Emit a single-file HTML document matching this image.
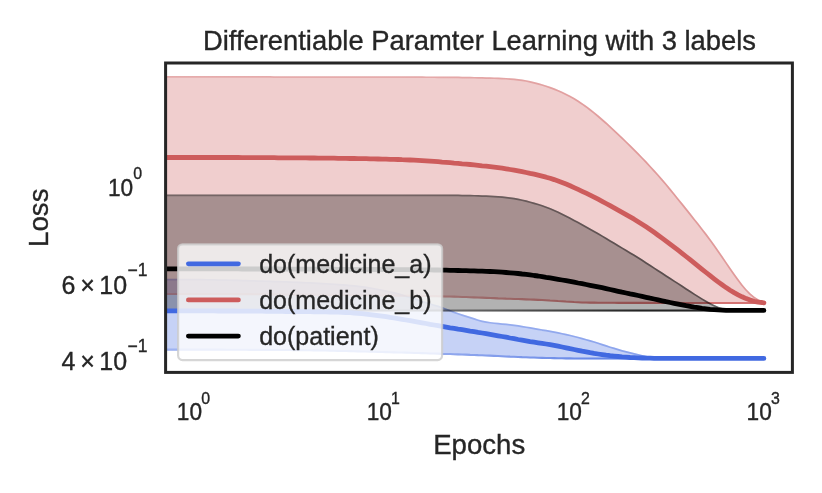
<!DOCTYPE html>
<html><head><meta charset="utf-8"><title>Differentiable Paramter Learning with 3 labels</title>
<style>
html,body{margin:0;padding:0;background:#fff;}
svg{display:block;}
text{font-family:"Liberation Sans",Arial,Helvetica,sans-serif;fill:#262626;stroke:#262626;stroke-width:0.35px;}
</style></head><body>
<svg width="822" height="493" viewBox="0 0 822 493">
<rect width="822" height="493" fill="#ffffff"/>
<defs><clipPath id="ax"><rect x="165.6" y="63.0" width="626.8" height="309.4"/></clipPath></defs>
<g clip-path="url(#ax)">
<clipPath id="b1"><path d="M150.0 278.7L194.1 278.7L198.1 278.8L202.1 278.8L206.1 278.9L210.1 279.0L214.1 279.1L218.1 279.2L222.1 279.3L226.1 279.3L230.1 279.4L234.1 279.5L238.1 279.6L242.1 279.7L246.1 279.8L250.1 280.0L254.1 280.1L258.1 280.2L262.1 280.3L266.1 280.4L270.1 280.5L274.1 280.7L278.1 280.8L282.1 280.9L286.1 281.1L290.1 281.2L294.1 281.4L298.1 281.6L302.1 281.7L306.1 281.9L310.1 282.1L314.1 282.3L318.1 282.5L322.1 282.7L326.1 282.9L330.1 283.2L334.1 283.4L338.2 283.7L342.2 284.0L346.2 284.3L350.2 284.7L354.2 285.0L358.2 285.5L362.2 286.0L366.2 286.6L370.2 287.2L374.2 287.9L378.2 288.7L382.2 289.5L386.2 290.3L390.3 291.2L394.3 292.1L398.3 293.1L402.3 294.3L406.3 295.5L410.3 296.7L414.3 298.0L418.3 299.3L422.3 300.7L426.3 301.9L430.3 303.2L434.3 304.4L438.3 305.6L442.3 307.0L446.3 308.4L450.4 310.0L454.3 311.6L458.3 313.0L462.3 314.3L466.3 315.6L470.3 316.8L474.3 318.1L478.3 319.4L482.3 320.5L486.2 321.3L490.2 321.9L494.2 322.4L498.2 322.8L502.2 323.2L506.2 323.6L510.2 324.0L514.2 324.6L518.2 325.1L522.2 325.8L526.2 326.4L530.2 327.1L534.2 327.8L538.2 328.5L542.2 329.2L546.2 329.8L550.2 330.5L554.2 331.3L558.2 332.0L562.2 332.9L566.3 333.8L570.3 334.7L574.3 335.7L578.3 336.7L582.3 337.8L586.3 338.9L590.3 340.0L594.3 341.2L598.3 342.5L602.3 343.8L606.3 345.1L610.3 346.4L614.3 347.6L618.3 348.8L622.3 350.0L626.3 351.0L630.3 352.0L634.3 353.0L638.3 353.9L642.3 354.9L646.2 355.8L650.2 356.4L654.2 357.0L658.1 357.4L662.1 357.5L666.1 357.5L670.1 357.5L674.1 357.5L678.1 357.5L682.1 357.5L686.1 357.6L690.1 357.6L694.1 357.6L698.1 357.6L702.1 357.6L706.1 357.6L710.1 357.6L714.1 357.6L718.1 357.6L722.1 357.6L726.1 357.6L730.1 357.6L734.1 357.6L738.1 357.6L742.1 357.6L746.1 357.6L750.1 357.6L754.1 357.6L758.1 357.6L762.1 357.6L763.9 357.6L763.9 359.7L762.1 359.7L758.1 359.7L754.1 359.7L750.1 359.7L746.1 359.7L742.1 359.7L738.1 359.7L734.1 359.7L730.1 359.7L726.1 359.7L722.1 359.7L718.1 359.7L714.1 359.7L710.1 359.7L706.1 359.7L702.1 359.7L698.1 359.7L694.1 359.7L690.1 359.7L686.1 359.7L682.1 359.7L678.1 359.7L674.1 359.7L670.1 359.7L666.1 359.7L662.1 359.7L658.1 359.7L654.1 359.7L650.1 359.7L646.1 359.7L642.1 359.6L638.1 359.6L634.1 359.6L630.1 359.6L626.1 359.6L622.1 359.6L618.1 359.6L614.1 359.6L610.1 359.6L606.1 359.6L602.1 359.6L598.1 359.6L594.1 359.6L590.1 359.6L586.1 359.5L582.1 359.5L578.1 359.5L574.1 359.5L570.1 359.4L566.1 359.4L562.1 359.3L558.1 359.3L554.1 359.2L550.1 359.1L546.1 359.0L542.1 358.9L538.1 358.8L534.1 358.6L530.1 358.5L526.1 358.3L522.1 358.2L518.0 358.0L514.0 357.8L510.0 357.7L506.0 357.5L502.0 357.3L498.0 357.1L494.0 356.9L490.0 356.7L486.0 356.5L482.0 356.3L478.1 356.2L474.1 356.0L470.1 355.9L466.1 355.7L462.1 355.6L458.1 355.4L454.1 355.3L450.1 355.1L446.1 355.0L442.1 354.9L438.1 354.7L434.1 354.6L430.1 354.5L426.1 354.3L422.1 354.2L418.1 354.1L414.1 354.0L410.1 353.8L406.1 353.7L402.1 353.6L398.1 353.5L394.1 353.4L390.1 353.3L386.1 353.2L382.1 353.1L378.1 353.0L374.1 352.8L370.1 352.7L366.1 352.6L362.1 352.5L358.1 352.4L354.1 352.3L350.1 352.2L346.1 352.1L342.1 352.0L338.1 351.9L334.1 351.8L330.1 351.7L326.1 351.6L322.1 351.5L318.1 351.4L314.1 351.4L310.1 351.3L306.1 351.3L302.1 351.2L298.1 351.2L294.1 351.2L290.1 351.1L286.1 351.1L282.1 351.1L278.1 351.0L274.1 351.0L270.1 351.0L266.1 351.0L262.1 350.9L258.1 350.9L254.1 350.9L250.1 350.9L246.1 350.8L242.1 350.8L238.1 350.8L234.1 350.8L230.1 350.8L226.1 350.8L222.1 350.7L218.1 350.7L214.1 350.7L210.1 350.7L206.1 350.7L202.1 350.7L198.1 350.7L194.1 350.7L150.0 350.7Z"/></clipPath><path d="M150.0 278.7L194.1 278.7L198.1 278.8L202.1 278.8L206.1 278.9L210.1 279.0L214.1 279.1L218.1 279.2L222.1 279.3L226.1 279.3L230.1 279.4L234.1 279.5L238.1 279.6L242.1 279.7L246.1 279.8L250.1 280.0L254.1 280.1L258.1 280.2L262.1 280.3L266.1 280.4L270.1 280.5L274.1 280.7L278.1 280.8L282.1 280.9L286.1 281.1L290.1 281.2L294.1 281.4L298.1 281.6L302.1 281.7L306.1 281.9L310.1 282.1L314.1 282.3L318.1 282.5L322.1 282.7L326.1 282.9L330.1 283.2L334.1 283.4L338.2 283.7L342.2 284.0L346.2 284.3L350.2 284.7L354.2 285.0L358.2 285.5L362.2 286.0L366.2 286.6L370.2 287.2L374.2 287.9L378.2 288.7L382.2 289.5L386.2 290.3L390.3 291.2L394.3 292.1L398.3 293.1L402.3 294.3L406.3 295.5L410.3 296.7L414.3 298.0L418.3 299.3L422.3 300.7L426.3 301.9L430.3 303.2L434.3 304.4L438.3 305.6L442.3 307.0L446.3 308.4L450.4 310.0L454.3 311.6L458.3 313.0L462.3 314.3L466.3 315.6L470.3 316.8L474.3 318.1L478.3 319.4L482.3 320.5L486.2 321.3L490.2 321.9L494.2 322.4L498.2 322.8L502.2 323.2L506.2 323.6L510.2 324.0L514.2 324.6L518.2 325.1L522.2 325.8L526.2 326.4L530.2 327.1L534.2 327.8L538.2 328.5L542.2 329.2L546.2 329.8L550.2 330.5L554.2 331.3L558.2 332.0L562.2 332.9L566.3 333.8L570.3 334.7L574.3 335.7L578.3 336.7L582.3 337.8L586.3 338.9L590.3 340.0L594.3 341.2L598.3 342.5L602.3 343.8L606.3 345.1L610.3 346.4L614.3 347.6L618.3 348.8L622.3 350.0L626.3 351.0L630.3 352.0L634.3 353.0L638.3 353.9L642.3 354.9L646.2 355.8L650.2 356.4L654.2 357.0L658.1 357.4L662.1 357.5L666.1 357.5L670.1 357.5L674.1 357.5L678.1 357.5L682.1 357.5L686.1 357.6L690.1 357.6L694.1 357.6L698.1 357.6L702.1 357.6L706.1 357.6L710.1 357.6L714.1 357.6L718.1 357.6L722.1 357.6L726.1 357.6L730.1 357.6L734.1 357.6L738.1 357.6L742.1 357.6L746.1 357.6L750.1 357.6L754.1 357.6L758.1 357.6L762.1 357.6L763.9 357.6L763.9 359.7L762.1 359.7L758.1 359.7L754.1 359.7L750.1 359.7L746.1 359.7L742.1 359.7L738.1 359.7L734.1 359.7L730.1 359.7L726.1 359.7L722.1 359.7L718.1 359.7L714.1 359.7L710.1 359.7L706.1 359.7L702.1 359.7L698.1 359.7L694.1 359.7L690.1 359.7L686.1 359.7L682.1 359.7L678.1 359.7L674.1 359.7L670.1 359.7L666.1 359.7L662.1 359.7L658.1 359.7L654.1 359.7L650.1 359.7L646.1 359.7L642.1 359.6L638.1 359.6L634.1 359.6L630.1 359.6L626.1 359.6L622.1 359.6L618.1 359.6L614.1 359.6L610.1 359.6L606.1 359.6L602.1 359.6L598.1 359.6L594.1 359.6L590.1 359.6L586.1 359.5L582.1 359.5L578.1 359.5L574.1 359.5L570.1 359.4L566.1 359.4L562.1 359.3L558.1 359.3L554.1 359.2L550.1 359.1L546.1 359.0L542.1 358.9L538.1 358.8L534.1 358.6L530.1 358.5L526.1 358.3L522.1 358.2L518.0 358.0L514.0 357.8L510.0 357.7L506.0 357.5L502.0 357.3L498.0 357.1L494.0 356.9L490.0 356.7L486.0 356.5L482.0 356.3L478.1 356.2L474.1 356.0L470.1 355.9L466.1 355.7L462.1 355.6L458.1 355.4L454.1 355.3L450.1 355.1L446.1 355.0L442.1 354.9L438.1 354.7L434.1 354.6L430.1 354.5L426.1 354.3L422.1 354.2L418.1 354.1L414.1 354.0L410.1 353.8L406.1 353.7L402.1 353.6L398.1 353.5L394.1 353.4L390.1 353.3L386.1 353.2L382.1 353.1L378.1 353.0L374.1 352.8L370.1 352.7L366.1 352.6L362.1 352.5L358.1 352.4L354.1 352.3L350.1 352.2L346.1 352.1L342.1 352.0L338.1 351.9L334.1 351.8L330.1 351.7L326.1 351.6L322.1 351.5L318.1 351.4L314.1 351.4L310.1 351.3L306.1 351.3L302.1 351.2L298.1 351.2L294.1 351.2L290.1 351.1L286.1 351.1L282.1 351.1L278.1 351.0L274.1 351.0L270.1 351.0L266.1 351.0L262.1 350.9L258.1 350.9L254.1 350.9L250.1 350.9L246.1 350.8L242.1 350.8L238.1 350.8L234.1 350.8L230.1 350.8L226.1 350.8L222.1 350.7L218.1 350.7L214.1 350.7L210.1 350.7L206.1 350.7L202.1 350.7L198.1 350.7L194.1 350.7L150.0 350.7Z" fill="#4169e1" fill-opacity="0.3"/><linearGradient id="gtb1" gradientUnits="userSpaceOnUse" x1="400" y1="0" x2="640" y2="0"><stop offset="0" stop-color="#4169e1" stop-opacity="0.3"/><stop offset="1" stop-color="#4169e1" stop-opacity="0.45"/></linearGradient><linearGradient id="gbb1" gradientUnits="userSpaceOnUse" x1="400" y1="0" x2="640" y2="0"><stop offset="0" stop-color="#4169e1" stop-opacity="0.3"/><stop offset="1" stop-color="#4169e1" stop-opacity="0.8"/></linearGradient><g clip-path="url(#b1)" fill="none" stroke-linejoin="round"><path d="M150.0 278.7L194.1 278.7L198.1 278.8L202.1 278.8L206.1 278.9L210.1 279.0L214.1 279.1L218.1 279.2L222.1 279.3L226.1 279.3L230.1 279.4L234.1 279.5L238.1 279.6L242.1 279.7L246.1 279.8L250.1 280.0L254.1 280.1L258.1 280.2L262.1 280.3L266.1 280.4L270.1 280.5L274.1 280.7L278.1 280.8L282.1 280.9L286.1 281.1L290.1 281.2L294.1 281.4L298.1 281.6L302.1 281.7L306.1 281.9L310.1 282.1L314.1 282.3L318.1 282.5L322.1 282.7L326.1 282.9L330.1 283.2L334.1 283.4L338.2 283.7L342.2 284.0L346.2 284.3L350.2 284.7L354.2 285.0L358.2 285.5L362.2 286.0L366.2 286.6L370.2 287.2L374.2 287.9L378.2 288.7L382.2 289.5L386.2 290.3L390.3 291.2L394.3 292.1L398.3 293.1L402.3 294.3L406.3 295.5L410.3 296.7L414.3 298.0L418.3 299.3L422.3 300.7L426.3 301.9L430.3 303.2L434.3 304.4L438.3 305.6L442.3 307.0L446.3 308.4L450.4 310.0L454.3 311.6L458.3 313.0L462.3 314.3L466.3 315.6L470.3 316.8L474.3 318.1L478.3 319.4L482.3 320.5L486.2 321.3L490.2 321.9L494.2 322.4L498.2 322.8L502.2 323.2L506.2 323.6L510.2 324.0L514.2 324.6L518.2 325.1L522.2 325.8L526.2 326.4L530.2 327.1L534.2 327.8L538.2 328.5L542.2 329.2L546.2 329.8L550.2 330.5L554.2 331.3L558.2 332.0L562.2 332.9L566.3 333.8L570.3 334.7L574.3 335.7L578.3 336.7L582.3 337.8L586.3 338.9L590.3 340.0L594.3 341.2L598.3 342.5L602.3 343.8L606.3 345.1L610.3 346.4L614.3 347.6L618.3 348.8L622.3 350.0L626.3 351.0L630.3 352.0L634.3 353.0L638.3 353.9L642.3 354.9L646.2 355.8L650.2 356.4L654.2 357.0L658.1 357.4L662.1 357.5L666.1 357.5L670.1 357.5L674.1 357.5L678.1 357.5L682.1 357.5L686.1 357.6L690.1 357.6L694.1 357.6L698.1 357.6L702.1 357.6L706.1 357.6L710.1 357.6L714.1 357.6L718.1 357.6L722.1 357.6L726.1 357.6L730.1 357.6L734.1 357.6L738.1 357.6L742.1 357.6L746.1 357.6L750.1 357.6L754.1 357.6L758.1 357.6L762.1 357.6L763.9 357.6" stroke="url(#gtb1)" stroke-width="3.4"/><path d="M150.0 350.7L194.1 350.7L198.1 350.7L202.1 350.7L206.1 350.7L210.1 350.7L214.1 350.7L218.1 350.7L222.1 350.7L226.1 350.8L230.1 350.8L234.1 350.8L238.1 350.8L242.1 350.8L246.1 350.8L250.1 350.9L254.1 350.9L258.1 350.9L262.1 350.9L266.1 351.0L270.1 351.0L274.1 351.0L278.1 351.0L282.1 351.1L286.1 351.1L290.1 351.1L294.1 351.2L298.1 351.2L302.1 351.2L306.1 351.3L310.1 351.3L314.1 351.4L318.1 351.4L322.1 351.5L326.1 351.6L330.1 351.7L334.1 351.8L338.1 351.9L342.1 352.0L346.1 352.1L350.1 352.2L354.1 352.3L358.1 352.4L362.1 352.5L366.1 352.6L370.1 352.7L374.1 352.8L378.1 353.0L382.1 353.1L386.1 353.2L390.1 353.3L394.1 353.4L398.1 353.5L402.1 353.6L406.1 353.7L410.1 353.8L414.1 354.0L418.1 354.1L422.1 354.2L426.1 354.3L430.1 354.5L434.1 354.6L438.1 354.7L442.1 354.9L446.1 355.0L450.1 355.1L454.1 355.3L458.1 355.4L462.1 355.6L466.1 355.7L470.1 355.9L474.1 356.0L478.1 356.2L482.0 356.3L486.0 356.5L490.0 356.7L494.0 356.9L498.0 357.1L502.0 357.3L506.0 357.5L510.0 357.7L514.0 357.8L518.0 358.0L522.1 358.2L526.1 358.3L530.1 358.5L534.1 358.6L538.1 358.8L542.1 358.9L546.1 359.0L550.1 359.1L554.1 359.2L558.1 359.3L562.1 359.3L566.1 359.4L570.1 359.4L574.1 359.5L578.1 359.5L582.1 359.5L586.1 359.5L590.1 359.6L594.1 359.6L598.1 359.6L602.1 359.6L606.1 359.6L610.1 359.6L614.1 359.6L618.1 359.6L622.1 359.6L626.1 359.6L630.1 359.6L634.1 359.6L638.1 359.6L642.1 359.6L646.1 359.7L650.1 359.7L654.1 359.7L658.1 359.7L662.1 359.7L666.1 359.7L670.1 359.7L674.1 359.7L678.1 359.7L682.1 359.7L686.1 359.7L690.1 359.7L694.1 359.7L698.1 359.7L702.1 359.7L706.1 359.7L710.1 359.7L714.1 359.7L718.1 359.7L722.1 359.7L726.1 359.7L730.1 359.7L734.1 359.7L738.1 359.7L742.1 359.7L746.1 359.7L750.1 359.7L754.1 359.7L758.1 359.7L762.1 359.7L763.9 359.7" stroke="url(#gbb1)" stroke-width="4.2"/></g>
<clipPath id="b2"><path d="M150.0 76.1L194.1 76.1L198.1 76.1L202.1 76.1L206.1 76.1L210.1 76.1L214.1 76.1L218.1 76.1L222.1 76.1L226.1 76.1L230.1 76.1L234.1 76.1L238.1 76.1L242.1 76.1L246.1 76.1L250.1 76.1L254.1 76.1L258.1 76.1L262.1 76.1L266.1 76.1L270.1 76.1L274.1 76.2L278.1 76.2L282.1 76.2L286.1 76.2L290.1 76.2L294.1 76.2L298.1 76.2L302.1 76.2L306.1 76.2L310.1 76.2L314.1 76.2L318.1 76.2L322.1 76.2L326.1 76.2L330.1 76.2L334.1 76.2L338.1 76.2L342.1 76.2L346.1 76.2L350.1 76.2L354.1 76.2L358.1 76.2L362.1 76.2L366.1 76.2L370.1 76.2L374.1 76.2L378.1 76.2L382.1 76.2L386.1 76.2L390.1 76.2L394.1 76.2L398.1 76.2L402.1 76.3L406.1 76.3L410.1 76.3L414.1 76.3L418.1 76.3L422.1 76.3L426.1 76.4L430.1 76.4L434.1 76.4L438.1 76.5L442.1 76.5L446.1 76.5L450.1 76.6L454.1 76.6L458.1 76.6L462.1 76.7L466.1 76.8L470.1 76.8L474.1 76.9L478.1 77.0L482.1 77.1L486.1 77.2L490.1 77.3L494.1 77.4L498.1 77.6L502.1 77.7L506.1 77.9L510.2 78.2L514.2 78.5L518.2 79.0L522.2 79.5L526.2 80.2L530.2 81.0L534.3 82.0L538.3 83.0L542.3 84.2L546.3 85.5L550.3 86.8L554.4 88.3L558.4 89.9L562.4 91.7L566.4 93.7L570.4 95.8L574.5 98.1L578.5 100.6L582.5 103.2L586.5 106.0L590.5 109.1L594.5 112.2L598.6 115.6L602.6 119.1L606.6 122.6L610.6 126.3L614.6 130.0L618.6 133.7L622.6 137.5L626.6 141.4L630.6 145.3L634.6 149.3L638.6 153.3L642.6 157.4L646.6 161.6L650.6 165.9L654.6 170.3L658.6 174.7L662.6 179.3L666.6 184.0L670.6 188.8L674.6 193.7L678.6 198.7L682.6 203.6L686.6 208.6L690.6 213.6L694.6 218.7L698.7 223.7L702.7 228.9L706.7 234.1L710.7 239.5L714.7 245.0L718.7 250.7L722.7 256.5L726.7 262.4L730.7 268.2L734.7 273.9L738.7 279.5L742.6 284.7L746.6 289.4L750.6 293.5L754.5 296.8L758.4 299.2L762.5 300.8L764.3 302.3L763.9 304.0L762.1 304.0L758.1 304.0L754.1 304.0L750.1 304.0L746.1 304.0L742.1 304.0L738.1 304.0L734.1 304.0L730.1 304.0L726.1 304.0L722.1 304.0L718.1 304.0L714.1 304.0L710.1 304.0L706.1 304.0L702.1 304.0L698.1 304.0L694.1 304.0L690.1 304.0L686.1 304.0L682.1 304.0L678.1 303.9L674.1 303.9L670.1 303.9L666.1 303.9L662.1 303.9L658.1 303.9L654.1 303.9L650.1 303.9L646.1 303.9L642.1 303.9L638.1 303.9L634.1 303.9L630.1 303.9L626.1 303.9L622.1 303.9L618.1 303.9L614.1 303.8L610.1 303.8L606.1 303.8L602.1 303.8L598.1 303.8L594.1 303.7L590.1 303.7L586.1 303.6L582.1 303.5L578.0 303.3L574.0 303.1L570.0 302.8L566.0 302.6L562.0 302.3L558.0 302.1L554.0 301.8L550.0 301.6L546.0 301.3L542.0 301.1L538.0 300.9L534.0 300.7L530.1 300.6L526.1 300.4L522.1 300.2L518.1 300.1L514.1 300.0L510.1 299.8L506.1 299.7L502.1 299.5L498.1 299.4L494.1 299.2L490.1 299.1L486.1 298.9L482.1 298.7L478.1 298.6L474.1 298.4L470.1 298.3L466.1 298.1L462.1 298.0L458.1 297.8L454.1 297.7L450.1 297.6L446.1 297.5L442.1 297.4L438.1 297.3L434.1 297.2L430.1 297.2L426.1 297.1L422.1 297.0L418.1 297.0L414.1 296.9L410.1 296.9L406.1 296.8L402.1 296.8L398.1 296.7L394.1 296.7L390.1 296.6L386.1 296.6L382.1 296.5L378.1 296.5L374.1 296.4L370.1 296.4L366.1 296.3L362.1 296.3L358.1 296.2L354.1 296.2L350.1 296.1L346.1 296.1L342.1 296.0L338.1 296.0L334.1 295.9L330.1 295.9L326.1 295.8L322.1 295.8L318.1 295.8L314.1 295.7L310.1 295.7L306.1 295.6L302.1 295.6L298.1 295.6L294.1 295.6L290.1 295.5L286.1 295.5L282.1 295.5L278.1 295.4L274.1 295.4L270.1 295.4L266.1 295.4L262.1 295.3L258.1 295.3L254.1 295.3L250.1 295.2L246.1 295.2L242.1 295.2L238.1 295.2L234.1 295.2L230.1 295.1L226.1 295.1L222.1 295.1L218.1 295.1L214.1 295.1L210.1 295.0L206.1 295.0L202.1 295.0L198.1 295.0L194.1 295.0L150.0 295.0Z"/></clipPath><path d="M150.0 76.1L194.1 76.1L198.1 76.1L202.1 76.1L206.1 76.1L210.1 76.1L214.1 76.1L218.1 76.1L222.1 76.1L226.1 76.1L230.1 76.1L234.1 76.1L238.1 76.1L242.1 76.1L246.1 76.1L250.1 76.1L254.1 76.1L258.1 76.1L262.1 76.1L266.1 76.1L270.1 76.1L274.1 76.2L278.1 76.2L282.1 76.2L286.1 76.2L290.1 76.2L294.1 76.2L298.1 76.2L302.1 76.2L306.1 76.2L310.1 76.2L314.1 76.2L318.1 76.2L322.1 76.2L326.1 76.2L330.1 76.2L334.1 76.2L338.1 76.2L342.1 76.2L346.1 76.2L350.1 76.2L354.1 76.2L358.1 76.2L362.1 76.2L366.1 76.2L370.1 76.2L374.1 76.2L378.1 76.2L382.1 76.2L386.1 76.2L390.1 76.2L394.1 76.2L398.1 76.2L402.1 76.3L406.1 76.3L410.1 76.3L414.1 76.3L418.1 76.3L422.1 76.3L426.1 76.4L430.1 76.4L434.1 76.4L438.1 76.5L442.1 76.5L446.1 76.5L450.1 76.6L454.1 76.6L458.1 76.6L462.1 76.7L466.1 76.8L470.1 76.8L474.1 76.9L478.1 77.0L482.1 77.1L486.1 77.2L490.1 77.3L494.1 77.4L498.1 77.6L502.1 77.7L506.1 77.9L510.2 78.2L514.2 78.5L518.2 79.0L522.2 79.5L526.2 80.2L530.2 81.0L534.3 82.0L538.3 83.0L542.3 84.2L546.3 85.5L550.3 86.8L554.4 88.3L558.4 89.9L562.4 91.7L566.4 93.7L570.4 95.8L574.5 98.1L578.5 100.6L582.5 103.2L586.5 106.0L590.5 109.1L594.5 112.2L598.6 115.6L602.6 119.1L606.6 122.6L610.6 126.3L614.6 130.0L618.6 133.7L622.6 137.5L626.6 141.4L630.6 145.3L634.6 149.3L638.6 153.3L642.6 157.4L646.6 161.6L650.6 165.9L654.6 170.3L658.6 174.7L662.6 179.3L666.6 184.0L670.6 188.8L674.6 193.7L678.6 198.7L682.6 203.6L686.6 208.6L690.6 213.6L694.6 218.7L698.7 223.7L702.7 228.9L706.7 234.1L710.7 239.5L714.7 245.0L718.7 250.7L722.7 256.5L726.7 262.4L730.7 268.2L734.7 273.9L738.7 279.5L742.6 284.7L746.6 289.4L750.6 293.5L754.5 296.8L758.4 299.2L762.5 300.8L764.3 302.3L763.9 304.0L762.1 304.0L758.1 304.0L754.1 304.0L750.1 304.0L746.1 304.0L742.1 304.0L738.1 304.0L734.1 304.0L730.1 304.0L726.1 304.0L722.1 304.0L718.1 304.0L714.1 304.0L710.1 304.0L706.1 304.0L702.1 304.0L698.1 304.0L694.1 304.0L690.1 304.0L686.1 304.0L682.1 304.0L678.1 303.9L674.1 303.9L670.1 303.9L666.1 303.9L662.1 303.9L658.1 303.9L654.1 303.9L650.1 303.9L646.1 303.9L642.1 303.9L638.1 303.9L634.1 303.9L630.1 303.9L626.1 303.9L622.1 303.9L618.1 303.9L614.1 303.8L610.1 303.8L606.1 303.8L602.1 303.8L598.1 303.8L594.1 303.7L590.1 303.7L586.1 303.6L582.1 303.5L578.0 303.3L574.0 303.1L570.0 302.8L566.0 302.6L562.0 302.3L558.0 302.1L554.0 301.8L550.0 301.6L546.0 301.3L542.0 301.1L538.0 300.9L534.0 300.7L530.1 300.6L526.1 300.4L522.1 300.2L518.1 300.1L514.1 300.0L510.1 299.8L506.1 299.7L502.1 299.5L498.1 299.4L494.1 299.2L490.1 299.1L486.1 298.9L482.1 298.7L478.1 298.6L474.1 298.4L470.1 298.3L466.1 298.1L462.1 298.0L458.1 297.8L454.1 297.7L450.1 297.6L446.1 297.5L442.1 297.4L438.1 297.3L434.1 297.2L430.1 297.2L426.1 297.1L422.1 297.0L418.1 297.0L414.1 296.9L410.1 296.9L406.1 296.8L402.1 296.8L398.1 296.7L394.1 296.7L390.1 296.6L386.1 296.6L382.1 296.5L378.1 296.5L374.1 296.4L370.1 296.4L366.1 296.3L362.1 296.3L358.1 296.2L354.1 296.2L350.1 296.1L346.1 296.1L342.1 296.0L338.1 296.0L334.1 295.9L330.1 295.9L326.1 295.8L322.1 295.8L318.1 295.8L314.1 295.7L310.1 295.7L306.1 295.6L302.1 295.6L298.1 295.6L294.1 295.6L290.1 295.5L286.1 295.5L282.1 295.5L278.1 295.4L274.1 295.4L270.1 295.4L266.1 295.4L262.1 295.3L258.1 295.3L254.1 295.3L250.1 295.2L246.1 295.2L242.1 295.2L238.1 295.2L234.1 295.2L230.1 295.1L226.1 295.1L222.1 295.1L218.1 295.1L214.1 295.1L210.1 295.0L206.1 295.0L202.1 295.0L198.1 295.0L194.1 295.0L150.0 295.0Z" fill="#cd5c5c" fill-opacity="0.3"/><linearGradient id="gtb2" gradientUnits="userSpaceOnUse" x1="400" y1="0" x2="640" y2="0"><stop offset="0" stop-color="#cd5c5c" stop-opacity="0.3"/><stop offset="1" stop-color="#cd5c5c" stop-opacity="0.45"/></linearGradient><linearGradient id="gbb2" gradientUnits="userSpaceOnUse" x1="400" y1="0" x2="640" y2="0"><stop offset="0" stop-color="#cd5c5c" stop-opacity="0.3"/><stop offset="1" stop-color="#cd5c5c" stop-opacity="0.8"/></linearGradient><g clip-path="url(#b2)" fill="none" stroke-linejoin="round"><path d="M150.0 76.1L194.1 76.1L198.1 76.1L202.1 76.1L206.1 76.1L210.1 76.1L214.1 76.1L218.1 76.1L222.1 76.1L226.1 76.1L230.1 76.1L234.1 76.1L238.1 76.1L242.1 76.1L246.1 76.1L250.1 76.1L254.1 76.1L258.1 76.1L262.1 76.1L266.1 76.1L270.1 76.1L274.1 76.2L278.1 76.2L282.1 76.2L286.1 76.2L290.1 76.2L294.1 76.2L298.1 76.2L302.1 76.2L306.1 76.2L310.1 76.2L314.1 76.2L318.1 76.2L322.1 76.2L326.1 76.2L330.1 76.2L334.1 76.2L338.1 76.2L342.1 76.2L346.1 76.2L350.1 76.2L354.1 76.2L358.1 76.2L362.1 76.2L366.1 76.2L370.1 76.2L374.1 76.2L378.1 76.2L382.1 76.2L386.1 76.2L390.1 76.2L394.1 76.2L398.1 76.2L402.1 76.3L406.1 76.3L410.1 76.3L414.1 76.3L418.1 76.3L422.1 76.3L426.1 76.4L430.1 76.4L434.1 76.4L438.1 76.5L442.1 76.5L446.1 76.5L450.1 76.6L454.1 76.6L458.1 76.6L462.1 76.7L466.1 76.8L470.1 76.8L474.1 76.9L478.1 77.0L482.1 77.1L486.1 77.2L490.1 77.3L494.1 77.4L498.1 77.6L502.1 77.7L506.1 77.9L510.2 78.2L514.2 78.5L518.2 79.0L522.2 79.5L526.2 80.2L530.2 81.0L534.3 82.0L538.3 83.0L542.3 84.2L546.3 85.5L550.3 86.8L554.4 88.3L558.4 89.9L562.4 91.7L566.4 93.7L570.4 95.8L574.5 98.1L578.5 100.6L582.5 103.2L586.5 106.0L590.5 109.1L594.5 112.2L598.6 115.6L602.6 119.1L606.6 122.6L610.6 126.3L614.6 130.0L618.6 133.7L622.6 137.5L626.6 141.4L630.6 145.3L634.6 149.3L638.6 153.3L642.6 157.4L646.6 161.6L650.6 165.9L654.6 170.3L658.6 174.7L662.6 179.3L666.6 184.0L670.6 188.8L674.6 193.7L678.6 198.7L682.6 203.6L686.6 208.6L690.6 213.6L694.6 218.7L698.7 223.7L702.7 228.9L706.7 234.1L710.7 239.5L714.7 245.0L718.7 250.7L722.7 256.5L726.7 262.4L730.7 268.2L734.7 273.9L738.7 279.5L742.6 284.7L746.6 289.4L750.6 293.5L754.5 296.8L758.4 299.2L762.5 300.8L764.3 302.3" stroke="url(#gtb2)" stroke-width="3.4"/><path d="M150.0 295.0L194.1 295.0L198.1 295.0L202.1 295.0L206.1 295.0L210.1 295.0L214.1 295.1L218.1 295.1L222.1 295.1L226.1 295.1L230.1 295.1L234.1 295.2L238.1 295.2L242.1 295.2L246.1 295.2L250.1 295.2L254.1 295.3L258.1 295.3L262.1 295.3L266.1 295.4L270.1 295.4L274.1 295.4L278.1 295.4L282.1 295.5L286.1 295.5L290.1 295.5L294.1 295.6L298.1 295.6L302.1 295.6L306.1 295.6L310.1 295.7L314.1 295.7L318.1 295.8L322.1 295.8L326.1 295.8L330.1 295.9L334.1 295.9L338.1 296.0L342.1 296.0L346.1 296.1L350.1 296.1L354.1 296.2L358.1 296.2L362.1 296.3L366.1 296.3L370.1 296.4L374.1 296.4L378.1 296.5L382.1 296.5L386.1 296.6L390.1 296.6L394.1 296.7L398.1 296.7L402.1 296.8L406.1 296.8L410.1 296.9L414.1 296.9L418.1 297.0L422.1 297.0L426.1 297.1L430.1 297.2L434.1 297.2L438.1 297.3L442.1 297.4L446.1 297.5L450.1 297.6L454.1 297.7L458.1 297.8L462.1 298.0L466.1 298.1L470.1 298.3L474.1 298.4L478.1 298.6L482.1 298.7L486.1 298.9L490.1 299.1L494.1 299.2L498.1 299.4L502.1 299.5L506.1 299.7L510.1 299.8L514.1 300.0L518.1 300.1L522.1 300.2L526.1 300.4L530.1 300.6L534.0 300.7L538.0 300.9L542.0 301.1L546.0 301.3L550.0 301.6L554.0 301.8L558.0 302.1L562.0 302.3L566.0 302.6L570.0 302.8L574.0 303.1L578.0 303.3L582.1 303.5L586.1 303.6L590.1 303.7L594.1 303.7L598.1 303.8L602.1 303.8L606.1 303.8L610.1 303.8L614.1 303.8L618.1 303.9L622.1 303.9L626.1 303.9L630.1 303.9L634.1 303.9L638.1 303.9L642.1 303.9L646.1 303.9L650.1 303.9L654.1 303.9L658.1 303.9L662.1 303.9L666.1 303.9L670.1 303.9L674.1 303.9L678.1 303.9L682.1 304.0L686.1 304.0L690.1 304.0L694.1 304.0L698.1 304.0L702.1 304.0L706.1 304.0L710.1 304.0L714.1 304.0L718.1 304.0L722.1 304.0L726.1 304.0L730.1 304.0L734.1 304.0L738.1 304.0L742.1 304.0L746.1 304.0L750.1 304.0L754.1 304.0L758.1 304.0L762.1 304.0L763.9 304.0" stroke="url(#gbb2)" stroke-width="4.2"/></g>
<clipPath id="b3"><path d="M150.0 194.5L194.1 194.5L198.1 194.5L202.1 194.5L206.1 194.5L210.1 194.5L214.1 194.5L218.1 194.5L222.1 194.5L226.1 194.5L230.1 194.5L234.1 194.5L238.1 194.5L242.1 194.5L246.1 194.5L250.1 194.5L254.1 194.5L258.1 194.5L262.1 194.5L266.1 194.5L270.1 194.5L274.1 194.5L278.1 194.5L282.1 194.5L286.1 194.5L290.1 194.5L294.1 194.5L298.1 194.5L302.1 194.5L306.1 194.5L310.1 194.5L314.1 194.5L318.1 194.5L322.1 194.5L326.1 194.5L330.1 194.5L334.1 194.5L338.1 194.5L342.1 194.5L346.1 194.5L350.1 194.5L354.1 194.5L358.1 194.5L362.1 194.5L366.1 194.5L370.1 194.5L374.1 194.5L378.1 194.5L382.1 194.5L386.1 194.5L390.1 194.5L394.1 194.5L398.1 194.5L402.1 194.5L406.1 194.5L410.1 194.5L414.1 194.5L418.1 194.5L422.1 194.5L426.1 194.5L430.1 194.5L434.1 194.5L438.1 194.5L442.1 194.5L446.1 194.5L450.1 194.6L454.1 194.6L458.1 194.6L462.1 194.7L466.1 194.8L470.1 194.8L474.1 194.9L478.1 195.0L482.1 195.2L486.1 195.3L490.1 195.5L494.1 195.7L498.2 196.0L502.2 196.3L506.2 196.7L510.2 197.2L514.2 197.8L518.2 198.5L522.3 199.4L526.3 200.3L530.3 201.4L534.3 202.5L538.3 203.7L542.3 205.0L546.3 206.5L550.4 208.0L554.4 209.7L558.4 211.5L562.4 213.5L566.4 215.5L570.4 217.5L574.4 219.7L578.4 221.8L582.4 224.0L586.4 226.2L590.4 228.5L594.4 230.7L598.5 233.0L602.5 235.4L606.5 237.8L610.5 240.2L614.5 242.6L618.5 245.0L622.5 247.4L626.5 249.8L630.5 252.2L634.5 254.6L638.5 257.1L642.5 259.6L646.5 262.2L650.5 264.8L654.5 267.4L658.5 270.0L662.5 272.6L666.5 275.2L670.5 277.8L674.5 280.4L678.5 282.9L682.5 285.6L686.5 288.2L690.5 290.8L694.5 293.4L698.5 295.9L702.5 298.4L706.5 300.7L710.4 303.0L714.4 305.0L718.3 306.7L722.3 307.9L726.2 308.8L730.2 309.2L734.1 309.4L738.1 309.5L742.1 309.6L746.1 309.6L750.1 309.7L754.1 309.7L758.1 309.7L762.1 309.7L763.9 309.7L763.9 311.5L762.1 311.5L758.1 311.5L754.1 311.5L750.1 311.5L746.1 311.5L742.1 311.5L738.1 311.5L734.1 311.5L730.1 311.5L726.1 311.5L722.1 311.5L718.1 311.5L714.1 311.5L710.1 311.5L706.1 311.5L702.1 311.5L698.1 311.5L694.1 311.5L690.1 311.5L686.1 311.5L682.1 311.5L678.1 311.5L674.1 311.5L670.1 311.5L666.1 311.5L662.1 311.5L658.1 311.5L654.1 311.5L650.1 311.5L646.1 311.5L642.1 311.5L638.1 311.5L634.1 311.5L630.1 311.5L626.1 311.5L622.1 311.5L618.1 311.5L614.1 311.5L610.1 311.5L606.1 311.5L602.1 311.5L598.1 311.5L594.1 311.5L590.1 311.5L586.1 311.5L582.1 311.5L578.1 311.5L574.1 311.5L570.1 311.5L566.1 311.5L562.1 311.5L558.1 311.5L554.1 311.5L550.1 311.5L546.1 311.5L542.1 311.5L538.1 311.5L534.1 311.5L530.1 311.5L526.1 311.5L522.1 311.5L518.1 311.5L514.1 311.5L510.1 311.5L506.1 311.5L502.1 311.5L498.1 311.5L494.1 311.5L490.1 311.5L486.1 311.5L482.1 311.5L478.1 311.5L474.1 311.5L470.1 311.5L466.1 311.5L462.1 311.5L458.1 311.5L454.1 311.5L450.1 311.5L446.1 311.5L442.1 311.5L438.1 311.5L434.1 311.5L430.1 311.5L426.1 311.5L422.1 311.5L418.1 311.5L414.1 311.5L410.1 311.5L406.1 311.5L402.1 311.5L398.1 311.5L394.1 311.5L390.1 311.5L386.1 311.5L382.1 311.5L378.1 311.5L374.1 311.5L370.1 311.5L366.1 311.5L362.1 311.5L358.1 311.5L354.1 311.5L350.1 311.5L346.1 311.5L342.1 311.5L338.1 311.5L334.1 311.5L330.1 311.5L326.1 311.5L322.1 311.5L318.1 311.5L314.1 311.5L310.1 311.5L306.1 311.5L302.1 311.5L298.1 311.5L294.1 311.5L290.1 311.5L286.1 311.5L282.1 311.5L278.1 311.5L274.1 311.5L270.1 311.5L266.1 311.5L262.1 311.5L258.1 311.5L254.1 311.5L250.1 311.5L246.1 311.5L242.1 311.5L238.1 311.5L234.1 311.5L230.1 311.5L226.1 311.5L222.1 311.5L218.1 311.5L214.1 311.5L210.1 311.5L206.1 311.5L202.1 311.5L198.1 311.5L194.1 311.5L150.0 311.5Z"/></clipPath><path d="M150.0 194.5L194.1 194.5L198.1 194.5L202.1 194.5L206.1 194.5L210.1 194.5L214.1 194.5L218.1 194.5L222.1 194.5L226.1 194.5L230.1 194.5L234.1 194.5L238.1 194.5L242.1 194.5L246.1 194.5L250.1 194.5L254.1 194.5L258.1 194.5L262.1 194.5L266.1 194.5L270.1 194.5L274.1 194.5L278.1 194.5L282.1 194.5L286.1 194.5L290.1 194.5L294.1 194.5L298.1 194.5L302.1 194.5L306.1 194.5L310.1 194.5L314.1 194.5L318.1 194.5L322.1 194.5L326.1 194.5L330.1 194.5L334.1 194.5L338.1 194.5L342.1 194.5L346.1 194.5L350.1 194.5L354.1 194.5L358.1 194.5L362.1 194.5L366.1 194.5L370.1 194.5L374.1 194.5L378.1 194.5L382.1 194.5L386.1 194.5L390.1 194.5L394.1 194.5L398.1 194.5L402.1 194.5L406.1 194.5L410.1 194.5L414.1 194.5L418.1 194.5L422.1 194.5L426.1 194.5L430.1 194.5L434.1 194.5L438.1 194.5L442.1 194.5L446.1 194.5L450.1 194.6L454.1 194.6L458.1 194.6L462.1 194.7L466.1 194.8L470.1 194.8L474.1 194.9L478.1 195.0L482.1 195.2L486.1 195.3L490.1 195.5L494.1 195.7L498.2 196.0L502.2 196.3L506.2 196.7L510.2 197.2L514.2 197.8L518.2 198.5L522.3 199.4L526.3 200.3L530.3 201.4L534.3 202.5L538.3 203.7L542.3 205.0L546.3 206.5L550.4 208.0L554.4 209.7L558.4 211.5L562.4 213.5L566.4 215.5L570.4 217.5L574.4 219.7L578.4 221.8L582.4 224.0L586.4 226.2L590.4 228.5L594.4 230.7L598.5 233.0L602.5 235.4L606.5 237.8L610.5 240.2L614.5 242.6L618.5 245.0L622.5 247.4L626.5 249.8L630.5 252.2L634.5 254.6L638.5 257.1L642.5 259.6L646.5 262.2L650.5 264.8L654.5 267.4L658.5 270.0L662.5 272.6L666.5 275.2L670.5 277.8L674.5 280.4L678.5 282.9L682.5 285.6L686.5 288.2L690.5 290.8L694.5 293.4L698.5 295.9L702.5 298.4L706.5 300.7L710.4 303.0L714.4 305.0L718.3 306.7L722.3 307.9L726.2 308.8L730.2 309.2L734.1 309.4L738.1 309.5L742.1 309.6L746.1 309.6L750.1 309.7L754.1 309.7L758.1 309.7L762.1 309.7L763.9 309.7L763.9 311.5L762.1 311.5L758.1 311.5L754.1 311.5L750.1 311.5L746.1 311.5L742.1 311.5L738.1 311.5L734.1 311.5L730.1 311.5L726.1 311.5L722.1 311.5L718.1 311.5L714.1 311.5L710.1 311.5L706.1 311.5L702.1 311.5L698.1 311.5L694.1 311.5L690.1 311.5L686.1 311.5L682.1 311.5L678.1 311.5L674.1 311.5L670.1 311.5L666.1 311.5L662.1 311.5L658.1 311.5L654.1 311.5L650.1 311.5L646.1 311.5L642.1 311.5L638.1 311.5L634.1 311.5L630.1 311.5L626.1 311.5L622.1 311.5L618.1 311.5L614.1 311.5L610.1 311.5L606.1 311.5L602.1 311.5L598.1 311.5L594.1 311.5L590.1 311.5L586.1 311.5L582.1 311.5L578.1 311.5L574.1 311.5L570.1 311.5L566.1 311.5L562.1 311.5L558.1 311.5L554.1 311.5L550.1 311.5L546.1 311.5L542.1 311.5L538.1 311.5L534.1 311.5L530.1 311.5L526.1 311.5L522.1 311.5L518.1 311.5L514.1 311.5L510.1 311.5L506.1 311.5L502.1 311.5L498.1 311.5L494.1 311.5L490.1 311.5L486.1 311.5L482.1 311.5L478.1 311.5L474.1 311.5L470.1 311.5L466.1 311.5L462.1 311.5L458.1 311.5L454.1 311.5L450.1 311.5L446.1 311.5L442.1 311.5L438.1 311.5L434.1 311.5L430.1 311.5L426.1 311.5L422.1 311.5L418.1 311.5L414.1 311.5L410.1 311.5L406.1 311.5L402.1 311.5L398.1 311.5L394.1 311.5L390.1 311.5L386.1 311.5L382.1 311.5L378.1 311.5L374.1 311.5L370.1 311.5L366.1 311.5L362.1 311.5L358.1 311.5L354.1 311.5L350.1 311.5L346.1 311.5L342.1 311.5L338.1 311.5L334.1 311.5L330.1 311.5L326.1 311.5L322.1 311.5L318.1 311.5L314.1 311.5L310.1 311.5L306.1 311.5L302.1 311.5L298.1 311.5L294.1 311.5L290.1 311.5L286.1 311.5L282.1 311.5L278.1 311.5L274.1 311.5L270.1 311.5L266.1 311.5L262.1 311.5L258.1 311.5L254.1 311.5L250.1 311.5L246.1 311.5L242.1 311.5L238.1 311.5L234.1 311.5L230.1 311.5L226.1 311.5L222.1 311.5L218.1 311.5L214.1 311.5L210.1 311.5L206.1 311.5L202.1 311.5L198.1 311.5L194.1 311.5L150.0 311.5Z" fill="#000000" fill-opacity="0.3"/><linearGradient id="gtb3" gradientUnits="userSpaceOnUse" x1="400" y1="0" x2="640" y2="0"><stop offset="0" stop-color="#000000" stop-opacity="0.3"/><stop offset="1" stop-color="#000000" stop-opacity="0.45"/></linearGradient><linearGradient id="gbb3" gradientUnits="userSpaceOnUse" x1="400" y1="0" x2="640" y2="0"><stop offset="0" stop-color="#000000" stop-opacity="0.3"/><stop offset="1" stop-color="#000000" stop-opacity="0.8"/></linearGradient><g clip-path="url(#b3)" fill="none" stroke-linejoin="round"><path d="M150.0 194.5L194.1 194.5L198.1 194.5L202.1 194.5L206.1 194.5L210.1 194.5L214.1 194.5L218.1 194.5L222.1 194.5L226.1 194.5L230.1 194.5L234.1 194.5L238.1 194.5L242.1 194.5L246.1 194.5L250.1 194.5L254.1 194.5L258.1 194.5L262.1 194.5L266.1 194.5L270.1 194.5L274.1 194.5L278.1 194.5L282.1 194.5L286.1 194.5L290.1 194.5L294.1 194.5L298.1 194.5L302.1 194.5L306.1 194.5L310.1 194.5L314.1 194.5L318.1 194.5L322.1 194.5L326.1 194.5L330.1 194.5L334.1 194.5L338.1 194.5L342.1 194.5L346.1 194.5L350.1 194.5L354.1 194.5L358.1 194.5L362.1 194.5L366.1 194.5L370.1 194.5L374.1 194.5L378.1 194.5L382.1 194.5L386.1 194.5L390.1 194.5L394.1 194.5L398.1 194.5L402.1 194.5L406.1 194.5L410.1 194.5L414.1 194.5L418.1 194.5L422.1 194.5L426.1 194.5L430.1 194.5L434.1 194.5L438.1 194.5L442.1 194.5L446.1 194.5L450.1 194.6L454.1 194.6L458.1 194.6L462.1 194.7L466.1 194.8L470.1 194.8L474.1 194.9L478.1 195.0L482.1 195.2L486.1 195.3L490.1 195.5L494.1 195.7L498.2 196.0L502.2 196.3L506.2 196.7L510.2 197.2L514.2 197.8L518.2 198.5L522.3 199.4L526.3 200.3L530.3 201.4L534.3 202.5L538.3 203.7L542.3 205.0L546.3 206.5L550.4 208.0L554.4 209.7L558.4 211.5L562.4 213.5L566.4 215.5L570.4 217.5L574.4 219.7L578.4 221.8L582.4 224.0L586.4 226.2L590.4 228.5L594.4 230.7L598.5 233.0L602.5 235.4L606.5 237.8L610.5 240.2L614.5 242.6L618.5 245.0L622.5 247.4L626.5 249.8L630.5 252.2L634.5 254.6L638.5 257.1L642.5 259.6L646.5 262.2L650.5 264.8L654.5 267.4L658.5 270.0L662.5 272.6L666.5 275.2L670.5 277.8L674.5 280.4L678.5 282.9L682.5 285.6L686.5 288.2L690.5 290.8L694.5 293.4L698.5 295.9L702.5 298.4L706.5 300.7L710.4 303.0L714.4 305.0L718.3 306.7L722.3 307.9L726.2 308.8L730.2 309.2L734.1 309.4L738.1 309.5L742.1 309.6L746.1 309.6L750.1 309.7L754.1 309.7L758.1 309.7L762.1 309.7L763.9 309.7" stroke="url(#gtb3)" stroke-width="3.4"/><path d="M150.0 311.5L194.1 311.5L198.1 311.5L202.1 311.5L206.1 311.5L210.1 311.5L214.1 311.5L218.1 311.5L222.1 311.5L226.1 311.5L230.1 311.5L234.1 311.5L238.1 311.5L242.1 311.5L246.1 311.5L250.1 311.5L254.1 311.5L258.1 311.5L262.1 311.5L266.1 311.5L270.1 311.5L274.1 311.5L278.1 311.5L282.1 311.5L286.1 311.5L290.1 311.5L294.1 311.5L298.1 311.5L302.1 311.5L306.1 311.5L310.1 311.5L314.1 311.5L318.1 311.5L322.1 311.5L326.1 311.5L330.1 311.5L334.1 311.5L338.1 311.5L342.1 311.5L346.1 311.5L350.1 311.5L354.1 311.5L358.1 311.5L362.1 311.5L366.1 311.5L370.1 311.5L374.1 311.5L378.1 311.5L382.1 311.5L386.1 311.5L390.1 311.5L394.1 311.5L398.1 311.5L402.1 311.5L406.1 311.5L410.1 311.5L414.1 311.5L418.1 311.5L422.1 311.5L426.1 311.5L430.1 311.5L434.1 311.5L438.1 311.5L442.1 311.5L446.1 311.5L450.1 311.5L454.1 311.5L458.1 311.5L462.1 311.5L466.1 311.5L470.1 311.5L474.1 311.5L478.1 311.5L482.1 311.5L486.1 311.5L490.1 311.5L494.1 311.5L498.1 311.5L502.1 311.5L506.1 311.5L510.1 311.5L514.1 311.5L518.1 311.5L522.1 311.5L526.1 311.5L530.1 311.5L534.1 311.5L538.1 311.5L542.1 311.5L546.1 311.5L550.1 311.5L554.1 311.5L558.1 311.5L562.1 311.5L566.1 311.5L570.1 311.5L574.1 311.5L578.1 311.5L582.1 311.5L586.1 311.5L590.1 311.5L594.1 311.5L598.1 311.5L602.1 311.5L606.1 311.5L610.1 311.5L614.1 311.5L618.1 311.5L622.1 311.5L626.1 311.5L630.1 311.5L634.1 311.5L638.1 311.5L642.1 311.5L646.1 311.5L650.1 311.5L654.1 311.5L658.1 311.5L662.1 311.5L666.1 311.5L670.1 311.5L674.1 311.5L678.1 311.5L682.1 311.5L686.1 311.5L690.1 311.5L694.1 311.5L698.1 311.5L702.1 311.5L706.1 311.5L710.1 311.5L714.1 311.5L718.1 311.5L722.1 311.5L726.1 311.5L730.1 311.5L734.1 311.5L738.1 311.5L742.1 311.5L746.1 311.5L750.1 311.5L754.1 311.5L758.1 311.5L762.1 311.5L763.9 311.5" stroke="url(#gbb3)" stroke-width="4.2"/></g>
<path d="M150.0 310.9L194.1 310.9L198.1 310.9L202.1 310.9L206.1 310.9L210.1 310.9L214.1 310.9L218.1 311.0L222.1 311.0L226.1 311.0L230.1 311.0L234.1 311.0L238.1 311.1L242.1 311.1L246.1 311.1L250.1 311.1L254.1 311.2L258.1 311.2L262.1 311.2L266.1 311.3L270.1 311.3L274.1 311.3L278.1 311.4L282.1 311.4L286.1 311.5L290.1 311.5L294.1 311.5L298.1 311.6L302.1 311.6L306.1 311.7L310.1 311.7L314.1 311.8L318.1 311.8L322.1 311.9L326.1 311.9L330.1 312.0L334.1 312.1L338.1 312.2L342.1 312.3L346.1 312.5L350.1 312.7L354.1 313.0L358.1 313.3L362.1 313.7L366.1 314.1L370.1 314.6L374.1 315.1L378.1 315.6L382.1 316.1L386.1 316.7L390.1 317.4L394.1 318.0L398.1 318.7L402.1 319.3L406.1 320.0L410.1 320.7L414.1 321.4L418.1 322.1L422.1 322.8L426.1 323.5L430.1 324.3L434.1 325.0L438.1 325.7L442.1 326.4L446.1 327.1L450.1 327.8L454.1 328.4L458.1 329.1L462.1 329.7L466.1 330.4L470.1 331.1L474.1 331.7L478.1 332.4L482.1 333.0L486.1 333.7L490.1 334.4L494.1 335.1L498.1 335.8L502.1 336.5L506.1 337.2L510.1 338.0L514.1 338.7L518.1 339.5L522.1 340.2L526.1 340.9L530.1 341.6L534.1 342.2L538.1 342.8L542.1 343.4L546.1 344.0L550.1 344.7L554.1 345.4L558.1 346.2L562.1 347.0L566.1 347.8L570.1 348.7L574.1 349.5L578.1 350.3L582.1 351.2L586.1 351.9L590.1 352.7L594.1 353.4L598.1 354.0L602.1 354.6L606.1 355.2L610.1 355.7L614.1 356.1L618.1 356.5L622.1 356.9L626.1 357.2L630.1 357.5L634.1 357.7L638.1 357.9L642.1 358.0L646.1 358.1L650.1 358.2L654.1 358.3L658.1 358.3L662.1 358.4L666.1 358.4L670.1 358.4L674.1 358.4L678.1 358.4L682.1 358.4L686.1 358.4L690.1 358.4L694.1 358.4L698.1 358.4L702.1 358.4L706.1 358.4L710.1 358.4L714.1 358.4L718.1 358.4L722.1 358.4L726.1 358.4L730.1 358.4L734.1 358.4L738.1 358.4L742.1 358.4L746.1 358.4L750.1 358.4L754.1 358.4L758.1 358.4L762.1 358.4L763.9 358.4" fill="none" stroke="#4169e1" stroke-width="4.8" stroke-linecap="round" stroke-linejoin="round"/>
<path d="M150.0 157.5L194.1 157.5L198.1 157.5L202.1 157.5L206.1 157.5L210.1 157.5L214.1 157.5L218.1 157.5L222.1 157.5L226.1 157.5L230.1 157.5L234.1 157.5L238.1 157.5L242.1 157.6L246.1 157.6L250.1 157.6L254.1 157.6L258.1 157.6L262.1 157.7L266.1 157.7L270.1 157.7L274.1 157.7L278.1 157.8L282.1 157.8L286.1 157.8L290.1 157.8L294.1 157.9L298.1 157.9L302.1 157.9L306.1 157.9L310.1 158.0L314.1 158.0L318.1 158.1L322.1 158.1L326.1 158.1L330.1 158.2L334.1 158.2L338.1 158.3L342.1 158.3L346.1 158.4L350.1 158.5L354.1 158.5L358.1 158.6L362.1 158.7L366.1 158.7L370.1 158.8L374.1 158.9L378.1 159.0L382.1 159.1L386.1 159.2L390.1 159.3L394.1 159.4L398.1 159.5L402.1 159.7L406.1 159.8L410.1 160.0L414.1 160.2L418.1 160.4L422.1 160.6L426.1 160.8L430.1 161.1L434.1 161.4L438.1 161.7L442.1 162.1L446.1 162.4L450.1 162.7L454.1 163.1L458.1 163.4L462.1 163.8L466.1 164.1L470.1 164.5L474.1 164.9L478.1 165.3L482.1 165.8L486.1 166.2L490.1 166.7L494.1 167.2L498.1 167.7L502.1 168.2L506.1 168.8L510.1 169.5L514.1 170.2L518.1 170.9L522.1 171.7L526.1 172.5L530.1 173.4L534.1 174.2L538.1 175.2L542.1 176.2L546.1 177.2L550.1 178.3L554.1 179.6L558.1 181.0L562.1 182.5L566.1 184.1L570.1 185.8L574.1 187.6L578.1 189.4L582.1 191.3L586.1 193.2L590.1 195.1L594.1 197.1L598.1 199.2L602.1 201.3L606.1 203.5L610.1 205.7L614.1 207.9L618.1 210.1L622.1 212.3L626.1 214.6L630.1 216.9L634.1 219.2L638.1 221.7L642.1 224.2L646.1 226.8L650.1 229.5L654.1 232.3L658.1 235.2L662.1 238.1L666.1 241.1L670.1 244.2L674.1 247.2L678.1 250.2L682.1 253.3L686.1 256.5L690.1 259.7L694.1 262.9L698.1 266.1L702.1 269.3L706.1 272.5L710.1 275.7L714.1 278.8L718.1 281.9L722.1 284.8L726.1 287.6L730.1 290.2L734.1 292.6L738.1 294.8L742.1 296.8L746.1 298.6L750.1 300.1L754.1 301.3L758.1 302.1L762.1 302.5L763.9 302.8" fill="none" stroke="#cd5c5c" stroke-width="4.8" stroke-linecap="round" stroke-linejoin="round"/>
<path d="M150.0 268.9L194.1 268.9L198.1 268.9L202.1 268.9L206.1 268.9L210.1 268.9L214.1 268.9L218.1 268.9L222.1 268.9L226.1 268.9L230.1 268.9L234.1 268.9L238.1 268.9L242.1 269.0L246.1 269.0L250.1 269.0L254.1 269.0L258.1 269.0L262.1 269.0L266.1 269.0L270.1 269.0L274.1 269.0L278.1 269.0L282.1 269.1L286.1 269.1L290.1 269.1L294.1 269.1L298.1 269.1L302.1 269.1L306.1 269.1L310.1 269.1L314.1 269.1L318.1 269.2L322.1 269.2L326.1 269.2L330.1 269.2L334.1 269.2L338.1 269.3L342.1 269.3L346.1 269.3L350.1 269.3L354.1 269.3L358.1 269.4L362.1 269.4L366.1 269.4L370.1 269.4L374.1 269.5L378.1 269.5L382.1 269.5L386.1 269.5L390.1 269.6L394.1 269.6L398.1 269.6L402.1 269.7L406.1 269.7L410.1 269.7L414.1 269.8L418.1 269.8L422.1 269.8L426.1 269.9L430.1 269.9L434.1 270.0L438.1 270.0L442.1 270.1L446.1 270.2L450.1 270.3L454.1 270.4L458.1 270.5L462.1 270.6L466.1 270.7L470.1 270.8L474.1 270.9L478.1 271.1L482.1 271.2L486.1 271.4L490.1 271.5L494.1 271.7L498.1 271.9L502.1 272.2L506.1 272.5L510.1 272.8L514.1 273.1L518.1 273.5L522.1 274.0L526.1 274.4L530.1 274.9L534.1 275.5L538.1 276.0L542.1 276.6L546.1 277.3L550.1 277.9L554.1 278.6L558.1 279.3L562.1 280.0L566.1 280.7L570.1 281.4L574.1 282.2L578.1 283.0L582.1 283.7L586.1 284.5L590.1 285.3L594.1 286.1L598.1 286.9L602.1 287.7L606.1 288.6L610.1 289.5L614.1 290.4L618.1 291.3L622.1 292.2L626.1 293.0L630.1 293.9L634.1 294.7L638.1 295.5L642.1 296.4L646.1 297.3L650.1 298.2L654.1 299.0L658.1 299.9L662.1 300.8L666.1 301.7L670.1 302.5L674.1 303.3L678.1 304.1L682.1 304.9L686.1 305.7L690.1 306.4L694.1 307.1L698.1 307.7L702.1 308.3L706.1 308.8L710.1 309.3L714.1 309.6L718.1 309.9L722.1 310.1L726.1 310.3L730.1 310.3L734.1 310.4L738.1 310.4L742.1 310.4L746.1 310.4L750.1 310.4L754.1 310.4L758.1 310.4L762.1 310.4L763.9 310.4" fill="none" stroke="#000000" stroke-width="4.8" stroke-linecap="round" stroke-linejoin="round"/>
</g>
<rect x="165.6" y="63.0" width="626.8" height="309.4" fill="none" stroke="#262626" stroke-width="3.0" stroke-linejoin="miter"/>
<g>
<rect x="178.1" y="244.3" width="264.0" height="115.8" rx="4.5" ry="4.5" fill="#ffffff" fill-opacity="0.8" stroke="#cccccc" stroke-opacity="0.8" stroke-width="2.2"/>
<path d="M188.4 263.8L238.4 263.8" stroke="#4169e1" stroke-width="4.8" stroke-linecap="round" fill="none"/>
<text x="259.2" y="272.9" font-size="25">do(medicine_a)</text>
<path d="M188.4 299.9L238.4 299.9" stroke="#cd5c5c" stroke-width="4.8" stroke-linecap="round" fill="none"/>
<text x="259.2" y="309.0" font-size="25">do(medicine_b)</text>
<path d="M188.4 336.1L238.4 336.1" stroke="#000000" stroke-width="4.8" stroke-linecap="round" fill="none"/>
<text x="259.2" y="345.2" font-size="25">do(patient)</text>
</g>
<text x="479.5" y="49.5" font-size="27.37" text-anchor="middle">Differentiable Paramter Learning with 3 labels</text>
<text x="479.25" y="454.4" font-size="27.6" text-anchor="middle">Epochs</text>
<text transform="translate(47.6 217.7) rotate(-90)" font-size="27.65" text-anchor="middle">Loss</text>
<text transform="translate(176.8 419.6) scale(1 1.09)" font-size="22.7">10</text><text x="201.2" y="404.1" font-size="15.9">0</text>
<text transform="translate(366.7 419.6) scale(1 1.09)" font-size="22.7">10</text><text x="391.1" y="404.1" font-size="15.9">1</text>
<text transform="translate(556.7 419.6) scale(1 1.09)" font-size="22.7">10</text><text x="581.1" y="404.1" font-size="15.9">2</text>
<text transform="translate(746.6 419.6) scale(1 1.09)" font-size="22.7">10</text><text x="771.0" y="404.1" font-size="15.9">3</text>
<text transform="translate(108.0 195.6) scale(1 1.09)" font-size="22.7">10</text><text x="133.3" y="179.3" font-size="15.9">0</text>
<text transform="translate(61.4 293.5) scale(1 1.035)" font-size="25.0">6</text><text x="80.2" y="293.5" font-size="25.0">×</text><text transform="translate(99.3 293.5) scale(1 1.035)" font-size="25.0">10</text><text x="127.6" y="275.5" font-size="17.5">−1</text>
<text transform="translate(61.4 369.9) scale(1 1.035)" font-size="25.0">4</text><text x="80.2" y="369.9" font-size="25.0">×</text><text transform="translate(99.3 369.9) scale(1 1.035)" font-size="25.0">10</text><text x="127.6" y="351.9" font-size="17.5">−1</text>
</svg></body></html>
